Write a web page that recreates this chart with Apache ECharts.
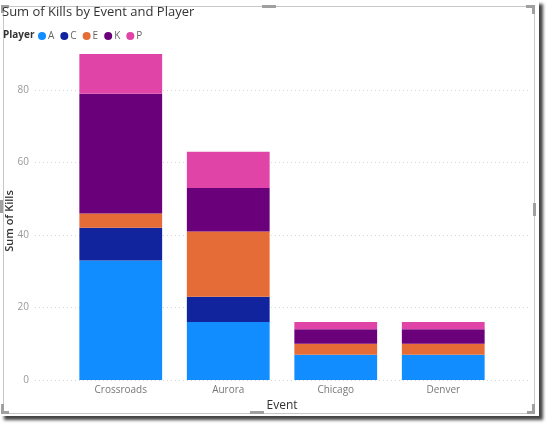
<!DOCTYPE html>
<html lang="en">
<head>
	<meta charset="UTF-8">
	<title>Sum of Kills by Event and Player</title>
	<style>
		html, body { margin: 0; padding: 0; background: #fff; }
		#frame { position: absolute; left: 0; top: 0; width: 539px; height: 416px; background: #fff; box-shadow: 4px 4px 3px #444; }
		#border { position: absolute; left: 3px; top: 6px; width: 530px; height: 406px; border: 1px solid #c8c8c8; }
		.h { position: absolute; background: #a0a0a0; }
		#container { position: absolute; left: 0; top: 0; width: 546px; height: 424px; }
	</style>
</head>
<body>
	<div id="frame"></div>
	<div id="border"></div>
	<div class="h" style="left:1px;top:5px;width:8px;height:3px;"></div>
	<div class="h" style="left:1px;top:5px;width:3px;height:8px;"></div>
	<div class="h" style="left:262px;top:5px;width:14px;height:3px;"></div>
	<div class="h" style="left:526px;top:5px;width:9px;height:3px;"></div>
	<div class="h" style="left:532px;top:5px;width:3px;height:9px;"></div>
	<div class="h" style="left:533px;top:203px;width:3px;height:13px;"></div>
	<div class="h" style="left:0px;top:200px;width:3px;height:13px;"></div>
	<div class="h" style="left:1px;top:404px;width:3px;height:9px;"></div>
	<div class="h" style="left:1px;top:411px;width:8px;height:3px;"></div>
	<div class="h" style="left:250px;top:411px;width:14px;height:3px;"></div>
	<div class="h" style="left:527px;top:411px;width:8px;height:3px;"></div>
	<div class="h" style="left:532px;top:404px;width:3px;height:9px;"></div>
	<div id="container"></div>

	<script src="https://cdn.jsdelivr.net/npm/echarts@6/dist/echarts.min.js"></script>
	<script>
        var events = ['Crossroads', 'Aurora', 'Chicago', 'Denver'];
        var players = ['A', 'C', 'E', 'K', 'P'];
        var killsA = [33, 16, 7, 7];
        var killsC = [9, 7, 0, 0];
        var killsE = [4, 18, 3, 3];
        var killsK = [33, 12, 4, 4];
        var killsP = [11, 10, 2, 2];
        var yTicks = [0, 20, 40, 60, 80];
        var colors = ['#118DFF', '#12239E', '#E66C37', '#6B007B', '#E044A7'];

        var allKills = [killsA, killsC, killsE, killsK, killsP];
        var font = 'Open Sans, sans-serif';

        var series = players.map(function (p, i) {
            return {
                name: p,
                type: 'bar',
                stack: 'kills',
                xAxisIndex: 0,
                yAxisIndex: 0,
                barCategoryGap: '23%',
                data: allKills[i],
                itemStyle: { color: colors[i] }
            };
        });

        var option = {
            animation: false,
            color: colors,
            title: {
                text: 'Sum of Kills by Event and Player',
                left: 2,
                top: 6,
                padding: 0,
                textStyle: { fontFamily: font, fontSize: 13, fontWeight: 'normal', color: '#333' }
            },
            legend: {
                data: players,
                left: 38,
                top: 31,
                icon: 'circle',
                itemWidth: 8,
                itemHeight: 8,
                itemGap: 6,
                padding: 0,
                textStyle: { fontFamily: font, fontSize: 10, color: '#666', padding: [0, 0, 0, -3] }
            },
            graphic: [
                {
                    type: 'text', left: 3, top: 30,
                    style: { text: 'Player', font: 'bold 10px ' + font, fill: '#333' }
                },
                {
                    type: 'text', x: 10, y: 221, rotation: Math.PI / 2,
                    style: { text: 'Sum of Kills', font: '600 11px ' + font, fill: '#333', align: 'center', verticalAlign: 'middle' }
                }
            ],
            grid: [
                { left: 67, right: 49, top: 54, bottom: 44 },
                { left: 35, right: 15, top: 90, bottom: 44 }
            ],
            xAxis: [
                {
                    type: 'category', gridIndex: 0, data: events,
                    name: 'Event', nameLocation: 'middle', nameGap: 20,
                    nameTextStyle: { fontFamily: font, fontSize: 12, color: '#333' },
                    axisLine: { show: false }, axisTick: { show: false },
                    axisLabel: { fontFamily: font, fontSize: 10, color: '#777', margin: 5 }
                },
                { type: 'value', gridIndex: 1, show: false, min: 0, max: 1 }
            ],
            yAxis: [
                { type: 'value', gridIndex: 0, min: 0, max: 90, show: false },
                {
                    type: 'value', gridIndex: 1, min: yTicks[0], max: yTicks[yTicks.length - 1], interval: 20,
                    axisLine: { show: false }, axisTick: { show: false },
                    axisLabel: { fontFamily: font, fontSize: 10, color: '#999', margin: 6 },
                    splitLine: { lineStyle: { color: '#d8d8d8', type: [1, 3], width: 1 } }
                }
            ],
            series: series
        };

        var myChart = echarts.init(document.getElementById('container'));
        myChart.setOption(option);
    </script>
</body>
</html>
